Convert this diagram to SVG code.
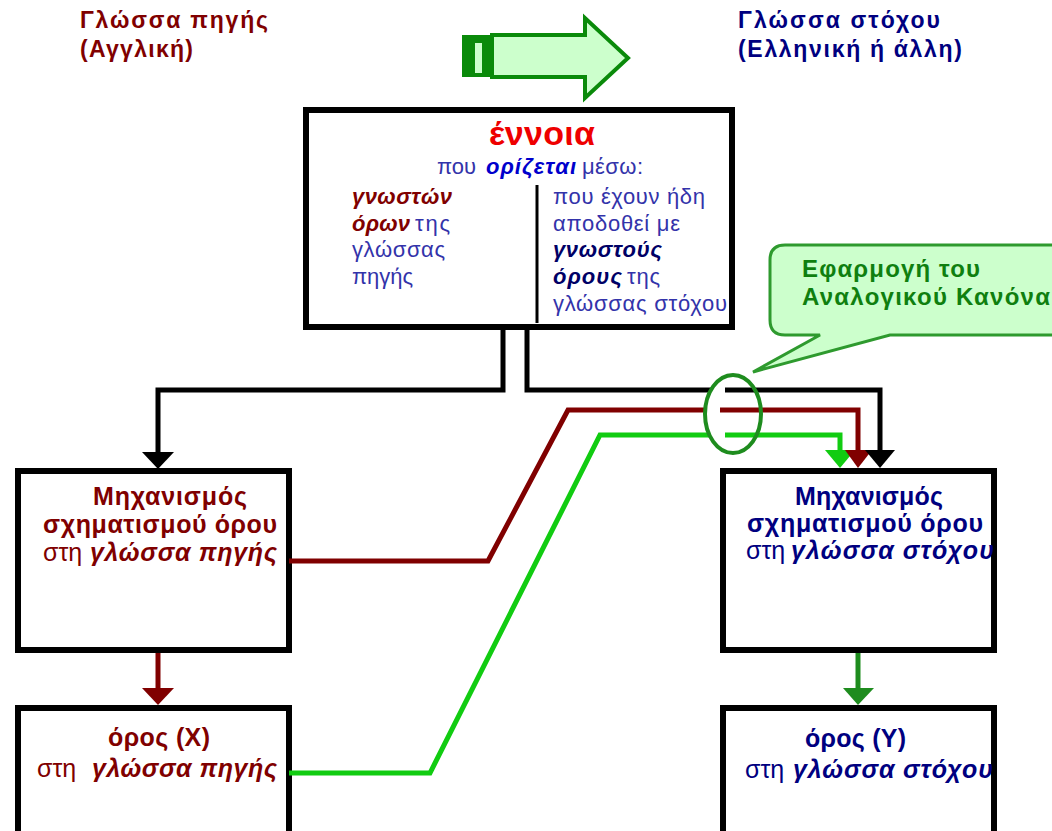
<svg xmlns="http://www.w3.org/2000/svg" width="1052" height="831" viewBox="0 0 1052 831">
<style>
text{font-family:"Liberation Sans","DejaVu Sans",Arial,sans-serif}
.b{font-weight:bold}
.bi{font-weight:bold;font-style:italic}
.hl{font-size:23px;font-weight:bold;fill:#800000}
.hr{font-size:23px;font-weight:bold;fill:#000080}
.t{font-size:22px}
.blue{fill:#3333aa}
.dblue{fill:#0000cc}
.dnavy{fill:#000066}
.red{fill:#800000}
.navy{fill:#000080}
.m{font-size:25px}
.box{fill:#fff;stroke:#000;stroke-width:6}
.ln{fill:none;stroke-width:5;stroke-linejoin:miter}
</style>
<rect width="1052" height="831" fill="#fff"/>

<g id="header-source">
<text class="hl" x="80" y="28" textLength="188" lengthAdjust="spacing">Γλώσσα πηγής</text>
<text class="hl" x="80" y="57" textLength="113" lengthAdjust="spacing">(Αγγλική)</text>
</g>
<g id="header-target">
<text class="hr" x="738" y="28" textLength="202" lengthAdjust="spacing">Γλώσσα στόχου</text>
<text class="hr" x="738" y="57" textLength="224" lengthAdjust="spacing">(Ελληνική ή άλλη)</text>
</g>

<g id="direction-arrow">
<polygon points="492,35 585,35 585,18 628,58 585,98 585,77 492,77" fill="#ccffcc" stroke="#0a8a0a" stroke-width="4" stroke-linejoin="miter"/>
<rect x="462" y="35" width="31" height="42" fill="#0a8a0a"/>
<rect x="475" y="43" width="7" height="30" fill="#ccffcc"/>
</g>

<g id="concept">
<rect class="box" x="306" y="110" width="426" height="217"/>
<line x1="537" y1="185" x2="537" y2="323" stroke="#000" stroke-width="3"/>
<text x="489" y="145" font-size="34" class="b" fill="#ee0000" textLength="106" lengthAdjust="spacing">έννοια</text>
<text class="t blue" x="437" y="174">που</text>
<text class="t bi dblue" x="486" y="174" textLength="90" lengthAdjust="spacing">ορίζεται</text>
<text class="t blue" x="582" y="174" textLength="61" lengthAdjust="spacing">μέσω:</text>
<text class="t bi red" x="352" y="204" textLength="100" lengthAdjust="spacing">γνωστών</text>
<text class="t bi red" x="352" y="231" textLength="58" lengthAdjust="spacing">όρων</text>
<text class="t blue" x="415" y="231" textLength="35" lengthAdjust="spacing">της</text>
<text class="t blue" x="352" y="257" textLength="93" lengthAdjust="spacing">γλώσσας</text>
<text class="t blue" x="352" y="284" textLength="61" lengthAdjust="spacing">πηγής</text>
<text class="t blue" x="553" y="204" textLength="152" lengthAdjust="spacing">που έχουν ήδη</text>
<text class="t blue" x="553" y="231" textLength="127" lengthAdjust="spacing">αποδοθεί με</text>
<text class="t bi dnavy" x="553" y="257" textLength="109" lengthAdjust="spacing">γνωστούς</text>
<text class="t bi dnavy" x="553" y="284" textLength="69" lengthAdjust="spacing">όρους</text>
<text class="t blue" x="627" y="284" textLength="33" lengthAdjust="spacing">της</text>
<text class="t blue" x="553" y="311" textLength="174" lengthAdjust="spacing">γλώσσας στόχου</text>
</g>

<g id="callout">
<path d="M785,245 H1070 V335 H890 L753,372 L820,335 H785 Q770,335 770,320 V260 Q770,245 785,245 Z" fill="#ccffcc" stroke="#2e9a2e" stroke-width="3" stroke-linejoin="miter"/>
<text x="802" y="277" font-size="24" class="b" fill="#0f7f0f" textLength="178" lengthAdjust="spacing">Εφαρμογή του</text>
<text x="802" y="305" font-size="24" class="b" fill="#0f7f0f" textLength="248" lengthAdjust="spacing">Αναλογικού Κανόνα</text>
</g>

<g id="mechanism-source">
<rect class="box" x="18" y="471" width="271" height="179"/>
<text class="m b red" x="93" y="505" textLength="154" lengthAdjust="spacing">Μηχανισμός</text>
<text class="m b red" x="43" y="533" textLength="234" lengthAdjust="spacing">σχηματισμού όρου</text>
<text class="m red" x="43" y="561">στη</text>
<text class="m bi red" x="90" y="561" textLength="187" lengthAdjust="spacing">γλώσσα πηγής</text>
</g>

<g id="mechanism-target">
<rect class="box" x="723" y="471" width="271" height="179"/>
<text class="m b navy" x="795" y="505" textLength="148" lengthAdjust="spacing">Μηχανισμός</text>
<text class="m b navy" x="747" y="532" textLength="236" lengthAdjust="spacing">σχηματισμού όρου</text>
<text class="m navy" x="746" y="559">στη</text>
<text class="m bi navy" x="791" y="559" textLength="203" lengthAdjust="spacing">γλώσσα στόχου</text>
</g>

<g id="term-source">
<rect class="box" x="18" y="708" width="271" height="140"/>
<text class="m b red" x="108" y="746" textLength="102" lengthAdjust="spacing">όρος (X)</text>
<text class="m red" x="37" y="777">στη</text>
<text class="m bi red" x="92" y="777" textLength="185" lengthAdjust="spacing">γλώσσα πηγής</text>
</g>

<g id="term-target">
<rect class="box" x="723" y="708" width="271" height="140"/>
<text class="m b navy" x="805" y="747" textLength="101" lengthAdjust="spacing">όρος (Y)</text>
<text class="m navy" x="745" y="778">στη</text>
<text class="m bi navy" x="793" y="778" textLength="200" lengthAdjust="spacing">γλώσσα στόχου</text>
</g>

<g id="connectors">
<path class="ln" stroke="#000" d="M503,327 V390 H158 V454"/>
<polygon points="142,452 174,452 158,469" fill="#000"/>
<path class="ln" stroke="#11cc11" d="M289,773 H430 L600,435 H709"/>
<path class="ln" stroke="#11cc11" d="M725,435 H840 V452"/>
<polygon points="825,450 855,450 840,468" fill="#11cc11"/>
<path class="ln" stroke="#800000" d="M289,561 H488 L568,410 H705"/>
<path class="ln" stroke="#800000" d="M720,410 H858 V452"/>
<polygon points="845,450 872,450 858,468" fill="#800000"/>
<path class="ln" stroke="#000" d="M527,327 V390 H711"/>
<path class="ln" stroke="#000" d="M725,390 H880 V452"/>
<polygon points="865,450 895,450 880,468" fill="#000"/>
<ellipse cx="733" cy="414" rx="28" ry="39" fill="none" stroke="#1e8c1e" stroke-width="4"/>
<path class="ln" stroke="#800000" stroke-width="6" d="M158,653 V690"/>
<polygon points="142,688 174,688 158,705" fill="#800000"/>
<path class="ln" stroke="#1e8c1e" stroke-width="6" d="M858,653 V690"/>
<polygon points="843,688 874,688 858,705" fill="#1e8c1e"/>
</g>
</svg>
